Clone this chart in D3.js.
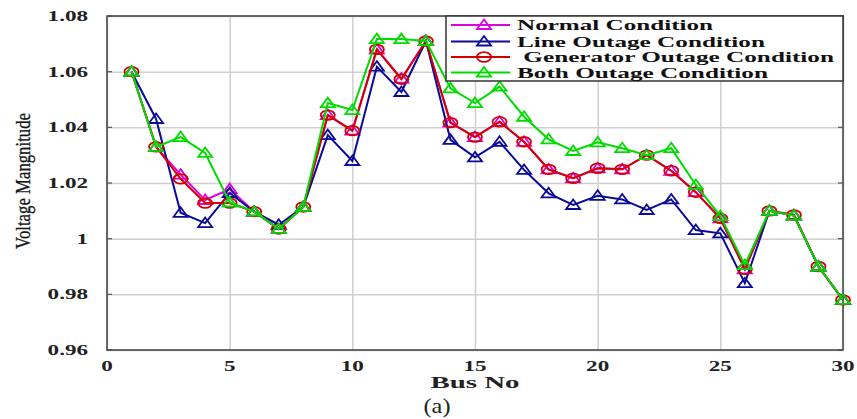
<!DOCTYPE html>
<html>
<head>
<meta charset="utf-8">
<script src="https://cdn.jsdelivr.net/npm/d3@7"></script>
<style>
  body { margin: 0; background: #fff; }
  svg { display: block; }
</style>
</head>
<body>
<div id="wrapper"></div>
<script>
// bus numbers and voltage magnitudes
const busNo = [1, 2, 3, 4, 5, 6, 7, 8, 9, 10, 11, 12, 13, 14, 15, 16, 17, 18, 19, 20, 21, 22, 23, 24, 25, 26, 27, 28, 29, 30];
const normalCond = [1.06, 1.033, 1.023, 1.0139, 1.0178, 1.0097, 1.0035, 1.0114, 1.0444, 1.0388, 1.068, 1.0575, 1.071, 1.0417, 1.0365, 1.042, 1.0348, 1.0249, 1.0217, 1.0253, 1.0249, 1.030, 1.0244, 1.0167, 1.0073, 0.989, 1.010, 1.0085, 0.990, 0.978];
const lineOutage = [1.06, 1.043, 1.0093, 1.0056, 1.0164, 1.0097, 1.005, 1.0114, 1.0372, 1.0279, 1.0618, 1.0527, 1.071, 1.0355, 1.0292, 1.0348, 1.0247, 1.0163, 1.0121, 1.0154, 1.0141, 1.0103, 1.0141, 1.0031, 1.0019, 0.984, 1.010, 1.0083, 0.990, 0.978];
const genOutage = [1.06, 1.033, 1.0215, 1.0128, 1.0128, 1.0097, 1.0035, 1.0114, 1.0444, 1.0388, 1.068, 1.0573, 1.071, 1.0417, 1.0365, 1.042, 1.0348, 1.0249, 1.0217, 1.0253, 1.0249, 1.030, 1.0244, 1.0167, 1.0073, 0.989, 1.010, 1.0085, 0.990, 0.978];
const bothOutage = [1.06, 1.033, 1.0365, 1.0308, 1.013, 1.0097, 1.0035, 1.0114, 1.0487, 1.0462, 1.0717, 1.0717, 1.071, 1.054, 1.0487, 1.0546, 1.0438, 1.0357, 1.0315, 1.0346, 1.0325, 1.030, 1.0325, 1.0193, 1.0081, 0.9905, 1.010, 1.0083, 0.990, 0.978];

const xTicks = [0, 5, 10, 15, 20, 25, 30];
const yTicks = [0.96, 0.98, 1, 1.02, 1.04, 1.06, 1.08];
const yTickLabels = ["0.96", "0.98", "1", "1.02", "1.04", "1.06", "1.08"];

const seriesNames = ["Normal Condition", "Line Outage Condition", " Generator Outage Condition", "Both Outage Condition"];

const series = [
  { name: seriesNames[0], values: normalCond, color: "#e000e0", marker: "triangle" },
  { name: seriesNames[1], values: lineOutage, color: "#0a0a9a", marker: "triangle" },
  { name: seriesNames[2], values: genOutage, color: "#d40000", marker: "circle" },
  { name: seriesNames[3], values: bothOutage, color: "#00dc00", marker: "triangle" }
];

const width = 857;
const height = 419;
const margin = { top: 16, right: 14, bottom: 69, left: 107 };
const plotW = width - margin.left - margin.right;
const plotH = height - margin.top - margin.bottom;
const serif = "'Liberation Serif', 'Times New Roman', serif";
const STRETCH = 1.65; // the picture is stretched sideways

const x = d3.scaleLinear().domain([0, 30]).range([0, plotW]);
const y = d3.scaleLinear().domain([0.96, 1.08]).range([plotH, 0]);

const svg = d3.select("#wrapper").append("svg")
  .attr("width", width)
  .attr("height", height);

const bounds = svg.append("g")
  .attr("transform", `translate(${margin.left}, ${margin.top})`);

// widen text like in the source image
function stretch(sel, k) {
  sel.each(function() {
    let w = this.getComputedTextLength();
    d3.select(this).attr("textLength", w * k).attr("lengthAdjust", "spacingAndGlyphs");
  });
}

// grid
bounds.append("g")
  .call(d3.axisLeft(y).tickValues(yTicks).tickSize(-plotW).tickFormat(""))
  .call(g => g.select(".domain").remove())
  .call(g => g.selectAll("line").attr("stroke", "#cfcfcf").attr("stroke-width", 1.5));

bounds.append("g")
  .attr("transform", `translate(0, ${plotH})`)
  .call(d3.axisBottom(x).tickValues(xTicks).tickSize(-plotH).tickFormat(""))
  .call(g => g.select(".domain").remove())
  .call(g => g.selectAll("line").attr("stroke", "#cfcfcf").attr("stroke-width", 1.5));

// inner tick marks
let tickLen = 5;
bounds.append("g").selectAll("line")
  .data(yTicks)
  .join("line")
  .attr("x1", 0).attr("x2", tickLen)
  .attr("y1", d => y(d)).attr("y2", d => y(d))
  .attr("stroke", "#555").attr("stroke-width", 1.2);
bounds.append("g").selectAll("line")
  .data(yTicks)
  .join("line")
  .attr("x1", plotW - tickLen).attr("x2", plotW)
  .attr("y1", d => y(d)).attr("y2", d => y(d))
  .attr("stroke", "#555").attr("stroke-width", 1.2);

// frame
bounds.append("rect")
  .attr("width", plotW).attr("height", plotH)
  .attr("fill", "none")
  .attr("stroke", "#4a4a4a")
  .attr("stroke-width", 1.6);

// tick labels
bounds.append("g").selectAll("text")
  .data(yTicks)
  .join("text")
  .attr("x", -19)
  .attr("y", d => y(d) + 5)
  .attr("text-anchor", "end")
  .attr("font-family", serif)
  .attr("font-weight", "bold")
  .attr("font-size", 14)
  .attr("fill", "#222")
  .text((d, i) => yTickLabels[i])
  .call(stretch, STRETCH);

bounds.append("g").selectAll("text")
  .data(xTicks)
  .join("text")
  .attr("x", d => x(d))
  .attr("y", plotH + 21)
  .attr("text-anchor", "middle")
  .attr("font-family", serif)
  .attr("font-weight", "bold")
  .attr("font-size", 14)
  .attr("fill", "#222")
  .text(d => d)
  .call(stretch, STRETCH);

// axis titles
bounds.append("text")
  .attr("x", plotW / 2)
  .attr("y", plotH + 38)
  .attr("text-anchor", "middle")
  .attr("font-family", serif)
  .attr("font-weight", "bold")
  .attr("font-size", 17)
  .attr("fill", "#222")
  .text("Bus No")
  .call(stretch, 1.7);

svg.append("text")
  .attr("transform", `translate(30, 181) rotate(-90)`)
  .attr("text-anchor", "middle")
  .attr("font-family", serif)
  .attr("font-size", 21)
  .attr("fill", "#111")
  .attr("stroke", "#111")
  .attr("stroke-width", 0.3)
  .text("Voltage Mangnitude")
  .attr("textLength", 136)
  .attr("lengthAdjust", "spacingAndGlyphs");

svg.append("text")
  .attr("x", 437)
  .attr("y", 413)
  .attr("text-anchor", "middle")
  .attr("font-family", serif)
  .attr("font-size", 22)
  .attr("fill", "#222")
  .text("(a)")
  .attr("textLength", 27)
  .attr("lengthAdjust", "spacingAndGlyphs");

// markers
const triPath = "M0,-5.5 L7,4 L-7,4 Z";
function drawMarker(sel, type, color) {
  if (type === "circle") {
    sel.append("ellipse")
      .attr("rx", 7).attr("ry", 4.8)
      .attr("fill", "none").attr("stroke", color).attr("stroke-width", 1.8);
  } else {
    sel.append("path")
      .attr("d", triPath)
      .attr("fill", "none").attr("stroke", color).attr("stroke-width", 1.8);
  }
}

const line = d3.line()
  .x((d, i) => x(busNo[i]))
  .y(d => y(d));

series.forEach(s => {
  let g = bounds.append("g");
  g.append("path")
    .datum(s.values)
    .attr("d", line)
    .attr("fill", "none")
    .attr("stroke", s.color)
    .attr("stroke-width", 2);
  g.selectAll("g.mk")
    .data(s.values)
    .join("g")
    .attr("class", "mk")
    .attr("transform", (d, i) => `translate(${x(busNo[i])}, ${y(d)})`)
    .each(function() { drawMarker(d3.select(this), s.marker, s.color); });
});

// legend
let legend = svg.append("g").attr("transform", "translate(446, 16)");
legend.append("rect")
  .attr("width", 397).attr("height", 65)
  .attr("fill", "#fff")
  .attr("stroke", "#333")
  .attr("stroke-width", 1.5);

let legendRows = [9, 25.5, 41, 56.5];
let legendWidths = [196, 248, 311, 251];
series.forEach((s, i) => {
  let row = legend.append("g").attr("transform", `translate(0, ${legendRows[i]})`);
  row.append("line")
    .attr("x1", 5).attr("x2", 64)
    .attr("stroke", s.color).attr("stroke-width", 2);
  let m = row.append("g").attr("transform", "translate(38, 0)");
  drawMarker(m, s.marker, s.color);
  row.append("text")
    .attr("x", 71)
    .attr("y", 5)
    .attr("font-family", serif)
    .attr("font-weight", "bold")
    .attr("font-size", 15)
    .attr("fill", "#111")
    .attr("xml:space", "preserve")
    .style("white-space", "pre")
    .text(s.name)
    .attr("textLength", legendWidths[i] + (i === 2 ? 6 : 0))
    .attr("lengthAdjust", "spacingAndGlyphs");
});
</script>
</body>
</html>
